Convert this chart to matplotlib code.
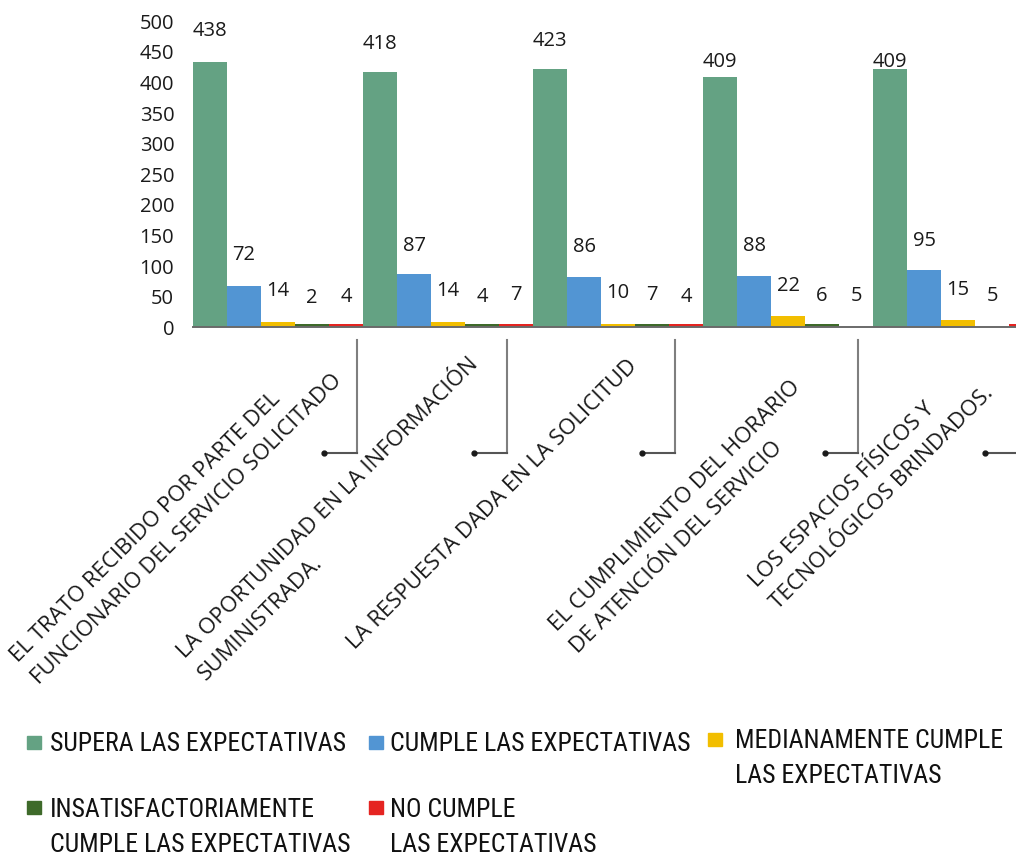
import matplotlib
matplotlib.use("Agg")
import matplotlib.pyplot as plt
from matplotlib.lines import Line2D
from matplotlib.patches import Rectangle
from matplotlib import font_manager
import numpy as np

# ---------------- data ----------------
categories = [
    "EL TRATO RECIBIDO POR PARTE DEL\nFUNCIONARIO DEL SERVICIO SOLICITADO",
    "LA OPORTUNIDAD EN LA INFORMACIÓN\nSUMINISTRADA.",
    "LA RESPUESTA DADA EN LA SOLICITUD",
    "EL CUMPLIMIENTO DEL HORARIO\nDE ATENCIÓN DEL SERVICIO",
    "LOS ESPACIOS FÍSICOS Y\nTECNOLÓGICOS BRINDADOS.",
]
series_names = [
    "SUPERA LAS EXPECTATIVAS",
    "CUMPLE LAS EXPECTATIVAS",
    "MEDIANAMENTE CUMPLE\nLAS EXPECTATIVAS",
    "INSATISFACTORIAMENTE\nCUMPLE LAS EXPECTATIVAS",
    "NO CUMPLE\nLAS EXPECTATIVAS",
]
# bar heights as drawn
supera_bars = [434, 417, 422, 409, 422]
cumple_bars = [68, 87, 83, 84, 94]
mediana_bars = [9, 9, 5, 18, 12]
insatis_bars = [5, 5, 5, 5, 0]
nocumple_bars = [5, 5, 5, 0, 5]
# data labels as printed
supera_labels = [438, 418, 423, 409, 409]
cumple_labels = [72, 87, 86, 88, 95]
mediana_labels = [14, 14, 10, 22, 15]
insatis_labels = [2, 4, 7, 6, 5]
nocumple_labels = [4, 7, 4, 5, None]

yticks = [0, 50, 100, 150, 200, 250, 300, 350, 400, 450, 500]

bars_all = [supera_bars, cumple_bars, mediana_bars, insatis_bars, nocumple_bars]
labels_all = [supera_labels, cumple_labels, mediana_labels, insatis_labels, nocumple_labels]
colors = ["#64A283", "#5295D3", "#F2BE00", "#3E6A2A", "#E52421"]

# ---------------- layout ----------------
W, H = 1016, 855
fig = plt.figure(figsize=(W / 100, H / 100), dpi=100)
fig.patch.set_facecolor("white")

def fx(px):
    return px / W

def fy(py):
    return 1 - py / H

installed = {f.name for f in font_manager.fontManager.ttflist}
num_font = ["Open Sans", "DejaVu Sans"]
narrow_candidates = ["Liberation Sans Narrow", "Roboto Condensed", "Open Sans Condensed",
                     "DejaVu Sans Condensed"]
leg_font = [f for f in narrow_candidates if f in installed] + ["Roboto", "DejaVu Sans"]

ax = fig.add_axes([fx(193), fy(327.3), 850 / W, 306 / H])
x = np.arange(len(categories))
bw = 0.2
for j, (vals, col) in enumerate(zip(bars_all, colors)):
    ax.bar(x + (j - 2) * bw, vals, width=bw, color=col, zorder=2, clip_on=False)

# data labels
nudge = {(0, 3): -9.5, (0, 4): -9.5}
for j, labs in enumerate(labels_all):
    for i, v in enumerate(labs):
        if v is None:
            continue
        ax.annotate(str(v), xy=(i + (j - 2) * bw, v),
                    xytext=(0, 20 + nudge.get((j, i), 0)), textcoords="offset points",
                    ha="center", va="center", fontsize=14.5, family=num_font,
                    color="#1a1a1a", annotation_clip=False)

ax.set_xlim(-0.5, len(categories) - 0.5)
ax.set_ylim(0, 500)
ax.set_yticks(yticks)
ax.set_yticklabels([str(t) for t in yticks], family=num_font, fontsize=14.5, color="#1a1a1a")
ax.tick_params(axis="y", length=0, pad=13.5)
ax.set_xticks([])
for s in ["top", "right", "left"]:
    ax.spines[s].set_visible(False)
ax.spines["bottom"].set_color("#6a6a6a")
ax.spines["bottom"].set_linewidth(1.4)
ax.patch.set_visible(False)

# category labels (rotated 45 deg, left aligned lines)
cat_starts = [(18, 663), (185, 659), (355, 650), (557, 632), (757, 588)]
line_step = (21, 22)
for (sx, sy), cat in zip(cat_starts, categories):
    for k, line in enumerate(cat.split("\n")):
        fig.text(fx(sx + k * line_step[0]), fy(sy + k * line_step[1]), line,
                 rotation=45, rotation_mode="anchor", ha="left", va="baseline",
                 fontsize=16, family=num_font, color="#1a1a1a")

# leader lines
leader_x = [357, 507, 675, 858, 1018]
for lx in leader_x:
    fig.add_artist(Line2D([fx(lx), fx(lx)], [fy(340), fy(453)], color="#7f7f7f", lw=1.5))
    fig.add_artist(Line2D([fx(lx - 33), fx(lx)], [fy(453), fy(453)], color="#555555", lw=1.5))
    fig.add_artist(Line2D([fx(lx - 33)], [fy(453)], marker="o", markersize=3.5,
                          color="#1a1a1a", lw=0))

# legend (manual)
leg_pos = [(27, 736, 50, 751), (369, 736, 390, 751), (708, 733, 735, 748),
           (27, 801, 50, 817), (369, 801, 390, 817)]
for (bx, by, tx, ty), name, col in zip(leg_pos, series_names, colors):
    fig.add_artist(Rectangle((fx(bx), fy(by + 13)), 14 / W, 13 / H, color=col,
                             transform=fig.transFigure))
    for k, line in enumerate(name.split("\n")):
        fig.text(fx(tx), fy(ty + k * 35), line, ha="left", va="baseline",
                 fontsize=18.5, family=leg_font, color="#111111")

fig.savefig("out.png", dpi=100, facecolor="white")
